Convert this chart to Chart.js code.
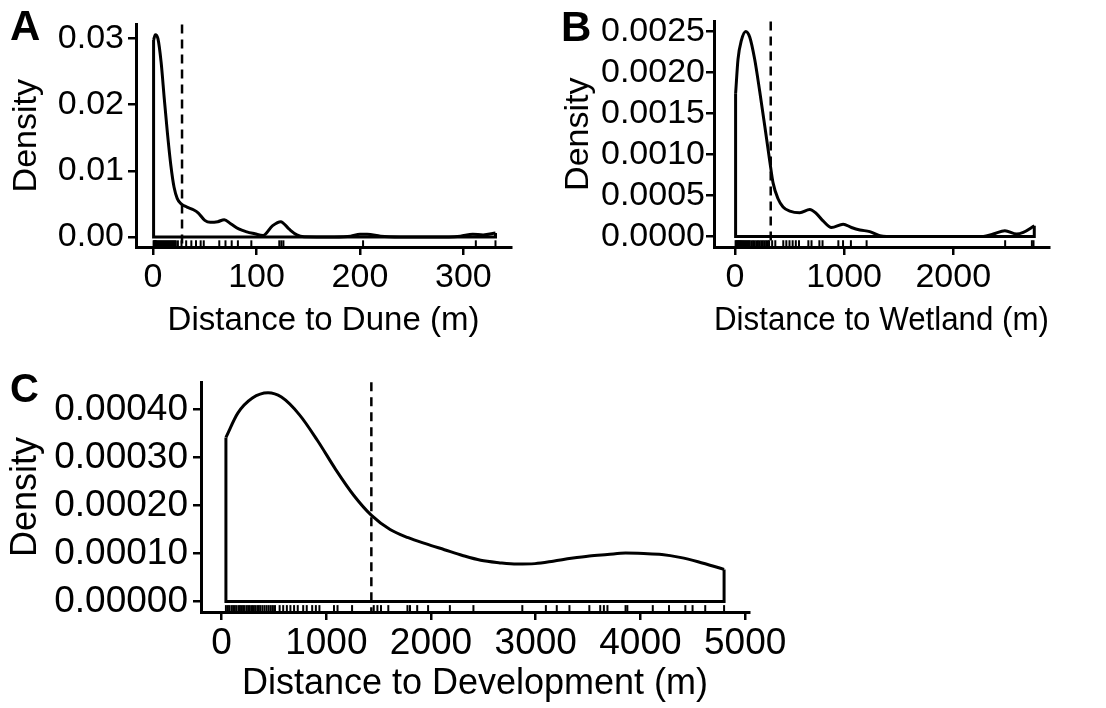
<!DOCTYPE html>
<html>
<head>
<meta charset="utf-8">
<script src="https://cdn.jsdelivr.net/npm/chart.js@4.4.1/dist/chart.umd.min.js"></script>
<style>
  html, body { margin: 0; padding: 0; background: #fff; }
  body { width: 1106px; height: 708px; position: relative; overflow: hidden; font-family: "Liberation Sans", Arial, sans-serif; }
  canvas { position: absolute; }
  .tag { position: absolute; font-weight: bold; line-height: 1; color: #000; }
</style>
</head>
<body>
<canvas id="graficoA" width="545" height="350" style="left:0;top:0"></canvas>
<canvas id="graficoB" width="556" height="350" style="left:550px;top:0"></canvas>
<canvas id="graficoC" width="800" height="353" style="left:0;top:355px"></canvas>
<div class="tag" style="left:10px;top:5px;font-size:42px">A</div>
<div class="tag" style="left:561px;top:6px;font-size:42px">B</div>
<div class="tag" style="left:10px;top:368px;font-size:40px">C</div>

<script>
// Panel A: distance to dune (density curve)
const duneX = [0.5, 2.2, 4.7, 7.8, 10.9, 14, 17.2, 20.3, 23.4, 27.2, 32.8, 39, 43.8, 50, 55.3, 62.5, 68.8, 75, 82.8, 90.6, 98.4, 106.3, 115.6, 123.4, 131.3, 139, 146, 175, 191, 200, 207, 220, 239, 286, 297, 309, 319, 331];
const duneY = [0.0298, 0.0306, 0.0300, 0.0264, 0.0208, 0.0155, 0.0108, 0.0075, 0.0058, 0.0050, 0.0045, 0.0041, 0.0036, 0.0025, 0.0022, 0.0023, 0.0026, 0.0020, 0.0012, 0.00076, 0.00047, 0.0002, 0.0017, 0.0023, 0.0012, 0.0003, 0.00003, 0, 0.0001, 0.0004, 0.0004, 0.0001, 0, 0, 0.0001, 0.0004, 0.0003, 0.0006];
const duneRug = [0.5, 1, 1.5, 2, 2.5, 3, 4, 5, 6, 7, 8, 9, 10, 11, 12, 13, 14, 15, 16, 17, 18, 19, 20, 21, 22, 24, 27.5, 32, 37, 41.5, 46, 49, 64, 70, 76, 82, 95, 122, 124, 126, 203, 312, 331];
const duneMean = 28;
const duneXTicks = [0, 100, 200, 300];
const duneYTicks = [0, 0.01, 0.02, 0.03];

// Panel B: distance to wetland
const wetX = [5, 27, 58, 98, 135, 180, 226, 272, 318, 349, 394, 440, 502, 593, 685, 746, 807, 884, 991, 1067, 1144, 1235, 1327, 1388, 2275, 2367, 2474, 2581, 2642, 2743];
const wetY = [0.00174, 0.00216, 0.00239, 0.0025, 0.00243, 0.00216, 0.00177, 0.00135, 0.00092, 0.00065, 0.00046, 0.00036, 0.00031, 0.00029, 0.00033, 0.00028, 0.00019, 0.00011, 0.00015, 0.00011, 0.00008, 0.00006, 0.00001, 0, 0, 0.00003, 0.00007, 0.00003, 0.00005, 0.00013];
const wetRug = [5, 12, 20, 28, 36, 45, 55, 65, 75, 85, 95, 105, 115, 125, 135, 150, 165, 180, 195, 210, 225, 240, 255, 270, 285, 300, 312, 340, 369, 442, 470, 499, 528, 557, 586, 672, 701, 773, 802, 947, 990, 1062, 1206, 2476, 2721, 2736];
const wetMean = 327;
const wetXTicks = [0, 1000, 2000];
const wetYTicks = [0, 0.0005, 0.001, 0.0015, 0.002, 0.0025];

// Panel C: distance to development
const devX = [41, 156, 294, 443, 571, 744, 917, 1090, 1263, 1429, 1609, 1782, 1955, 2128, 2301, 2474, 2647, 2820, 2993, 3166, 3339, 3512, 3685, 3858, 4031, 4204, 4377, 4550, 4799];
const devY = [0.000342, 0.000393, 0.000424, 0.000435, 0.000426, 0.000389, 0.000335, 0.000275, 0.000221, 0.00018, 0.00015, 0.000133, 0.00012, 0.000108, 0.000096, 0.000086, 0.000081, 0.000078, 0.000079, 0.000084, 0.00009, 0.000095, 0.000098, 0.000101, 0.0001, 0.000098, 0.000092, 0.000083, 0.000067];
const devRug = [41, 60, 75, 95, 110, 125, 140, 160, 175, 190, 205, 220, 240, 255, 270, 290, 305, 320, 340, 355, 370, 390, 410, 430, 450, 470, 490, 510, 554, 588, 623, 657, 692, 727, 779, 813, 865, 900, 934, 1073, 1107, 1246, 1453, 1488, 1522, 1592, 1775, 1799, 1868, 1972, 2180, 2405, 2872, 3097, 3201, 3322, 3512, 3616, 3651, 3685, 3858, 3875, 4118, 4273, 4429, 4498, 4619, 4799];
const devMean = 1430;
const devXTicks = [0, 1000, 2000, 3000, 4000, 5000];
const devYTicks = [0, 0.0001, 0.0002, 0.0003, 0.0004];

Chart.defaults.font.family = '"Liberation Sans", Arial, sans-serif';
Chart.defaults.color = '#000';

// rug marks and dashed reference line, drawn through the x scale
const rugPlugin = {
  id: 'rug',
  afterDatasetsDraw(chart, args, opts) {
    const { ctx, chartArea, scales } = chart;
    const x = scales.x;
    const len = (chartArea.bottom - chartArea.top) * 0.03;
    ctx.save();
    ctx.strokeStyle = '#000';
    ctx.lineWidth = 2;
    opts.values.forEach(v => {
      const px = x.getPixelForValue(v);
      ctx.beginPath();
      ctx.moveTo(px, chartArea.bottom);
      ctx.lineTo(px, chartArea.bottom - len);
      ctx.stroke();
    });
    const vx = x.getPixelForValue(opts.mean);
    ctx.lineWidth = 2.5;
    ctx.setLineDash([9, 6]);
    ctx.beginPath();
    ctx.moveTo(vx, chartArea.top);
    ctx.lineTo(vx, chartArea.bottom);
    ctx.stroke();
    ctx.restore();
  }
};

function crearPanel(id, p) {
  const curva = p.xs.map((v, i) => ({ x: v, y: p.ys[i] }));
  const n = p.xs.length - 1;
  // closed outline of geom_density: left edge, baseline, right edge
  const borde = [
    { x: p.xs[0], y: p.ys[0] }, { x: p.xs[0], y: 0 },
    { x: p.xs[n], y: 0 }, { x: p.xs[n], y: p.ys[n] }
  ];
  return new Chart(document.getElementById(id), {
    type: 'scatter',
    data: {
      datasets: [
        { data: curva, showLine: true, borderColor: '#000', borderWidth: 3, pointRadius: 0, cubicInterpolationMode: 'monotone' },
        { data: borde, showLine: true, borderColor: '#000', borderWidth: 3, pointRadius: 0, tension: 0 }
      ]
    },
    options: {
      responsive: false,
      animation: false,
      events: [],
      layout: { padding: p.padding },
      plugins: {
        legend: { display: false },
        tooltip: { enabled: false },
        rug: { values: p.rug, mean: p.mean }
      },
      scales: {
        x: {
          type: 'linear', min: p.xMin, max: p.xMax,
          afterBuildTicks: s => { s.ticks = p.xTicks.map(v => ({ value: v })); },
          afterFit: s => { s.height = p.xHeight; },
          border: { display: true, color: '#000', width: 3 },
          grid: { drawOnChartArea: false, drawTicks: true, tickLength: 8, color: '#000', lineWidth: 2.5 },
          ticks: { autoSkip: false, maxRotation: 0, padding: 2, font: { size: p.tickSize }, callback: v => String(v) },
          title: { display: true, text: p.xTitle, font: { size: p.titleSize, lineHeight: 1.2 }, padding: { top: 0, bottom: p.xTitlePad } }
        },
        y: {
          type: 'linear', min: p.yMin, max: p.yMax,
          afterBuildTicks: s => { s.ticks = p.yTicks.map(v => ({ value: v })); },
          afterFit: s => { s.width = p.yWidth; },
          border: { display: true, color: '#000', width: 3 },
          grid: { drawOnChartArea: false, drawTicks: true, tickLength: 8, color: '#000', lineWidth: 2.5 },
          ticks: { autoSkip: false, padding: p.yTickPad, font: { size: p.tickSize }, callback: v => v.toFixed(p.digits) },
          title: { display: true, text: 'Density', font: { size: p.densSize, lineHeight: 1.2 }, padding: { top: p.yTitlePad, bottom: 0 } }
        }
      }
    },
    plugins: [rugPlugin]
  });
}

crearPanel('graficoA', {
  xs: duneX, ys: duneY, rug: duneRug, mean: duneMean,
  xTicks: duneXTicks, yTicks: duneYTicks, digits: 2,
  xMin: -16.5, xMax: 346, yMin: -0.00153, yMax: 0.03215,
  xTitle: 'Distance to Dune (m)',
  padding: { left: 0, top: 10, right: 34, bottom: 0 },
  yWidth: 136, xHeight: 103, tickSize: 34, titleSize: 33, densSize: 34, xTitlePad: 9, yTitlePad: 6, yTickPad: 4
});

crearPanel('graficoB', {
  xs: wetX, ys: wetY, rug: wetRug, mean: wetMean,
  xTicks: wetXTicks, yTicks: wetYTicks, digits: 4,
  xMin: -193, xMax: 2878, yMin: -0.000128, yMax: 0.002622,
  xTitle: 'Distance to Wetland (m)',
  padding: { left: 0, top: 10, right: 57, bottom: 0 },
  yWidth: 164, xHeight: 103, tickSize: 34, titleSize: 33, densSize: 34, xTitlePad: 9, yTitlePad: 8, yTickPad: 1
});

crearPanel('graficoC', {
  xs: devX, ys: devY, rug: devRug, mean: devMean,
  xTicks: devXTicks, yTicks: devYTicks, digits: 5,
  xMin: -197, xMax: 5037, yMin: -0.0000218, yMax: 0.000457,
  xTitle: 'Distance to Development (m)',
  padding: { left: 0, top: 20, right: 51, bottom: 0 },
  yWidth: 201, xHeight: 96, tickSize: 37, titleSize: 36, densSize: 36, xTitlePad: 2, yTitlePad: 4, yTickPad: 5
});
</script>
</body>
</html>
